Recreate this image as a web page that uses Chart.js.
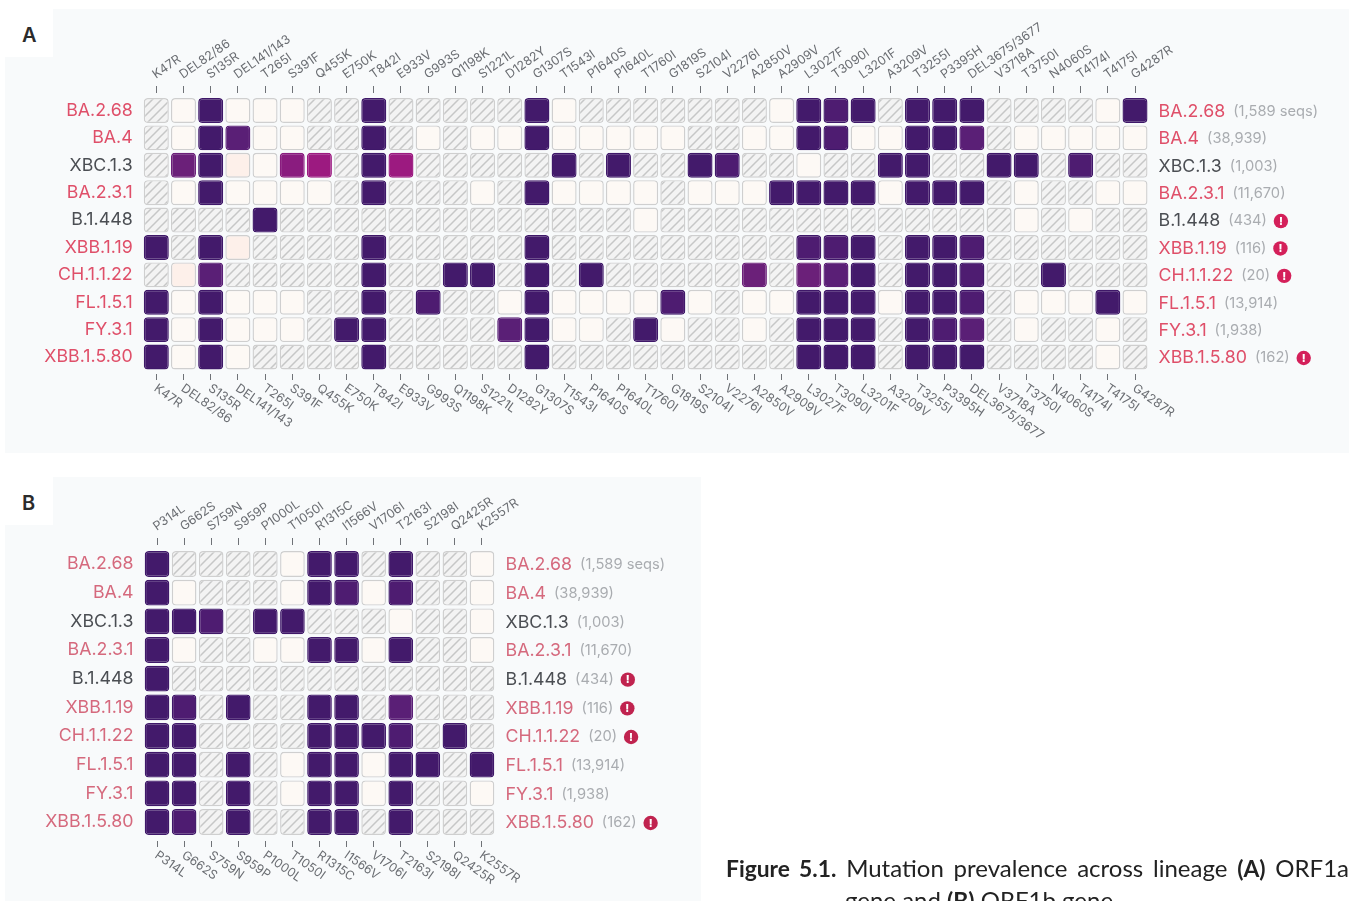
<!DOCTYPE html>
<html>
<head>
<meta charset="utf-8">
<title>Figure 5.1</title>
<script src="https://cdn.jsdelivr.net/npm/chart.js@4/dist/chart.umd.min.js"></script>
<style>
  html, body { margin: 0; padding: 0; background: #fff; }
  body { position: relative; width: 1350px; height: 901px; overflow: hidden; }
  .bg { position: absolute; background: #f8fafb; }
  canvas { position: absolute; left: 0; }
  .tag { position: absolute; left: 22px; font: 600 20px "Inter", sans-serif; color: #2b2b2b; }
  .caption { position: absolute; font: 24px/32px "Lato", sans-serif; color: #222; white-space: nowrap; }
  .caption b { font-size: 22.8px; }
  #cap1 { left: 726px; top: 852px; width: 623px; white-space: normal; text-align: justify; text-align-last: justify; }
  #cap2 { left: 845px; top: 884px; }
</style>
</head>
<body>
<div class="bg" style="left:53px;top:9px;width:1296px;height:48px"></div>
<div class="bg" style="left:5px;top:57px;width:1344px;height:396px"></div>
<div class="bg" style="left:53px;top:477px;width:648px;height:48px"></div>
<div class="bg" style="left:5px;top:525px;width:696px;height:376px"></div>
<div class="tag" style="top:23px">A</div>
<div class="tag" style="top:491px">B</div>
<canvas id="chartA" width="1350" height="455" style="top:0"></canvas>
<canvas id="chartB" width="1350" height="441" style="top:460px"></canvas>
<div class="caption" id="cap1"><b>Figure 5.1.</b> Mutation prevalence across lineage <b>(A)</b> ORF1a</div>
<div class="caption" id="cap2">gene and <b>(B)</b> ORF1b gene.</div>

<script>
/* ================= DATA ================= */
const lineages = ["BA.2.68","BA.4","XBC.1.3","BA.2.3.1","B.1.448","XBB.1.19","CH.1.1.22","FL.1.5.1","FY.3.1","XBB.1.5.80"];
const seqCounts = ["(1,589 seqs)","(38,939)","(1,003)","(11,670)","(434)","(116)","(20)","(13,914)","(1,938)","(162)"];
const lowCount = [false,false,false,false,true,true,true,false,false,true];
const recombinant = [false,false,true,false,true,false,false,false,false,false];

const orf1aMutations = [
"K47R","DEL82/86","S135R","DEL141/143","T265I","S391F","Q455K","E750K","T842I","E933V","G993S","Q1198K",
"S1221L","D1282Y","G1307S","T1543I","P1640S","P1640L","T1760I","G1819S","S2104I","V2276I","A2850V","A2909V",
"L3027F","T3090I","L3201F","A3209V","T3255I","P3395H","DEL3675/3677","V3718A","T3750I","N4060S","T4174I","T4175I","G4287R"
];
const orf1bMutations = ["P314L","G662S","S759N","S959P","P1000L","T1050I","R1315C","I1566V","V1706I","T2163I","S2198I","Q2425R","K2557R"];

// prevalence in %, _ = not enough coverage (hatched)
const _ = null;
const orf1aValues = [
[_,1,98,2,1,1,_,_,96,_,_,_, _,_,98,1,_,_,_,_,_,_,_,1, 94,92,98,_,96,96,96,_,_,_,_,1,98],
[_,1,98,82,1,1,_,_,98,_,1,_, 1,1,98,1,1,1,1,1,_,_,1,1, 94,92,1,1,96,96,84,_,1,1,1,1,1],
[_,72,97,4,1,58,52,_,97,52,_,_, _,_,_,96,_,96,_,_,96,88,_,_, 1,_,_,96,96,_,_,97,96,_,90,_,_],
[_,2,98,1,1,1,1,_,98,_,_,_, 1,_,98,1,1,1,1,_,1,1,1,98, 98,96,98,1,96,98,98,_,1,_,_,1,1],
[_,_,_,_,98,_,_,_,_,_,_,_, _,_,_,_,_,_,1,_,_,_,_,_, _,_,_,_,_,_,_,_,1,_,1,_,_],
[98,_,98,4,_,_,_,_,96,_,_,_, _,_,98,_,_,_,_,_,_,_,_,_, 92,86,98,_,96,94,90,_,_,_,_,_,_],
[_,4,82,_,_,_,_,_,98,_,_,98, 98,_,98,_,98,_,_,_,_,_,72,_, 72,82,98,_,96,94,92,_,_,98,_,_,_],
[96,1,98,1,1,1,_,_,96,_,92,_, _,1,98,1,1,1,1,90,1,_,1,1, 98,94,96,1,94,94,90,_,1,1,1,98,1],
[96,1,98,1,1,2,_,98,96,_,_,_, _,82,98,1,1,_,98,1,_,_,1,_, 98,94,96,_,94,90,84,_,1,_,_,1,_],
[98,1,97,1,_,_,_,_,98,_,_,_, _,_,97,_,_,_,_,_,_,_,_,_, 98,94,98,_,96,94,96,_,_,_,_,1,_]
];
const orf1bValues = [
[96,_,_,_,_,1,98,96,_,96,_,_,1],
[98,1,_,_,_,1,98,90,1,88,_,_,1],
[96,96,88,_,98,98,_,_,_,1,_,_,1],
[98,1,_,_,1,1,98,98,1,98,_,_,1],
[98,_,_,_,_,_,_,_,_,_,_,_,_],
[96,86,_,98,_,_,98,96,_,84,_,_,_],
[96,94,_,_,_,_,98,98,96,86,_,98,_],
[96,96,_,98,_,1,98,94,1,94,96,_,98],
[98,96,_,98,_,1,98,96,1,98,_,_,1],
[94,88,_,96,_,_,98,96,_,96,_,_,_]
];

/* ================= STYLE HELPERS ================= */
const FONT = "Inter";
const GREY_NAME = "#4b4e53";

function makeHatch() {
  const c = document.createElement("canvas");
  c.width = 9;
  c.height = 9;
  const x = c.getContext("2d");
  x.fillStyle = "#f3f3f3";
  x.fillRect(0, 0, 9, 9);
  x.strokeStyle = "#c6c7c7";
  x.lineWidth = 1.5;
  x.beginPath();
  x.moveTo(-2, 11); x.lineTo(11, -2);
  x.moveTo(-2, 2); x.lineTo(2, -2);
  x.moveTo(7, 11); x.lineTo(11, 7);
  x.stroke();
  return x.createPattern(c, "repeat");
}
const hatch = makeHatch();

function cellColor(v) {
  if (v === null) return hatch;
  if (v <= 2) return "#fdf9f5";
  if (v <= 6) return "#fdf0ea";
  if (v <= 54) return "#9c1a80";
  if (v <= 60) return "#8a1c7f";
  if (v <= 74) return "#6b2079";
  if (v <= 84) return "#5a1f76";
  if (v <= 92) return "#4e1c71";
  return "#431a6b";
}
function cellBorder(v) {
  if (v === null || v <= 6) return "#cfcfcf";
  if (v > 84) return "#3f1869";
  return cellColor(v);
}

/* ================= TEXT AROUND THE GRID ================= */
// bottom tick labels lean the other way and the right column has mixed colours, Chart.js can't do either
const gridText = {
  id: "gridText",
  afterDraw(chart, args, o) {
    const ctx = chart.ctx;
    const xs = chart.scales.x;
    const ys = chart.scales.y;
    ctx.save();

    // bottom labels
    ctx.font = `400 ${o.tickSize}px ${FONT}`;
    ctx.fillStyle = "#6a6d72";
    ctx.textAlign = "left";
    ctx.textBaseline = "middle";
    xs.ticks.forEach((t, i) => {
      ctx.save();
      ctx.translate(xs.getPixelForTick(i) + o.bottomDx, chart.chartArea.bottom + o.bottomDy);
      ctx.rotate(o.angle * Math.PI / 180);
      ctx.fillText(xs.getLabelForValue(t.value), 0, 0);
      ctx.restore();
    });

    // right labels
    lineages.forEach((name, i) => {
      const y = ys.getPixelForValue(i) + 1;
      let x = chart.chartArea.right + 10;
      ctx.font = `400 ${o.nameSize}px ${FONT}`;
      ctx.fillStyle = recombinant[i] ? GREY_NAME : o.nameColor;
      ctx.fillText(name, x, y);
      x += ctx.measureText(name).width + 8;
      ctx.font = `400 ${o.countSize}px ${FONT}`;
      ctx.fillStyle = "#a9acb0";
      ctx.fillText(seqCounts[i], x, y);
      x += ctx.measureText(seqCounts[i]).width;
      if (lowCount[i]) {
        ctx.beginPath();
        ctx.arc(x + 14, y, 7.2, 0, Math.PI * 2);
        ctx.fillStyle = o.iconColor;
        ctx.fill();
        ctx.fillStyle = "#fff";
        ctx.font = `800 11px ${FONT}`;
        ctx.textAlign = "center";
        ctx.fillText("!", x + 14, y + 0.5);
        ctx.textAlign = "left";
      }
    });
    ctx.restore();
  }
};

/* ================= CHARTS ================= */
function drawMatrix(id, mutations, values, g) {
  const halfCell = g.cellHeight / 2;

  const datasets = values.map((row, r) => ({
    label: lineages[r],
    data: row.map(() => [r - halfCell, r + halfCell]),
    backgroundColor: row.map(cellColor),
    borderColor: row.map(cellBorder),
    borderWidth: 1.4,
    borderRadius: 4,
    borderSkipped: false,
    grouped: false,
    barPercentage: g.cellWidth,
    categoryPercentage: 1
  }));

  return new Chart(document.getElementById(id), {
    type: "bar",
    data: { labels: mutations, datasets: datasets },
    plugins: [gridText],
    options: {
      responsive: false,
      animation: false,
      events: [],
      layout: { padding: { left: 0, right: g.right, top: 0, bottom: 0 } },
      plugins: {
        legend: { display: false },
        tooltip: { enabled: false },
        gridText: g.text
      },
      scales: {
        x: {
          type: "category",
          position: "bottom",
          offset: true,
          border: { display: false },
          grid: { offset: false, drawOnChartArea: false, drawTicks: true, tickLength: 6, tickColor: "#6f7277", tickWidth: 1 },
          ticks: { display: false, autoSkip: false },
          afterFit: s => { s.height = g.bottom; }
        },
        xTop: {
          type: "category",
          position: "top",
          labels: mutations,
          offset: true,
          border: { display: false },
          grid: { offset: false, drawOnChartArea: false, drawTicks: true, tickLength: 7, tickColor: "#6f7277", tickWidth: 1 },
          ticks: {
            autoSkip: false,
            minRotation: g.text.angle,
            maxRotation: g.text.angle,
            padding: g.topPad,
            labelOffset: 6,
            color: "#6a6d72",
            font: { family: FONT, size: g.text.tickSize, weight: "400" }
          },
          afterFit: s => { s.height = g.top; }
        },
        y: {
          type: "linear",
          reverse: true,
          min: g.yMin,
          max: g.yMax,
          border: { display: false },
          grid: { display: false, drawTicks: false },
          afterBuildTicks: s => { s.ticks = lineages.map((n, i) => ({ value: i })); },
          ticks: {
            autoSkip: false,
            padding: g.leftPad,
            callback: v => lineages[v],
            color: c => recombinant[c.index] ? GREY_NAME : g.text.nameColor,
            font: { family: FONT, size: g.text.nameSize, weight: "400" }
          },
          afterFit: s => { s.width = g.left; }
        }
      }
    }
  });
}

window.onload = () => {
  drawMatrix("chartA", orf1aMutations, orf1aValues, {
    left: 142.7, right: 201.4, top: 93, bottom: 81,
    yMin: -0.639, yMax: 9.62, cellHeight: 0.91, cellWidth: 0.92,
    topPad: 4, leftPad: 10,
    text: { angle: 35, tickSize: 12.4, nameSize: 17.8, countSize: 14.7, bottomDx: -1, bottomDy: 13,
            nameColor: "#df4f69", iconColor: "#d4205a" }
  });
  drawMatrix("chartB", orf1bMutations, orf1bValues, {
    left: 143.5, right: 854.5, top: 85, bottom: 60,
    yMin: -0.663, yMax: 9.663, cellHeight: 0.9, cellWidth: 0.91,
    topPad: 4, leftPad: 10,
    text: { angle: 35, tickSize: 12.4, nameSize: 17.8, countSize: 14.7, bottomDx: -1, bottomDy: 13,
            nameColor: "#d5697d", iconColor: "#c0234f" }
  });
};
</script>
</body>
</html>
